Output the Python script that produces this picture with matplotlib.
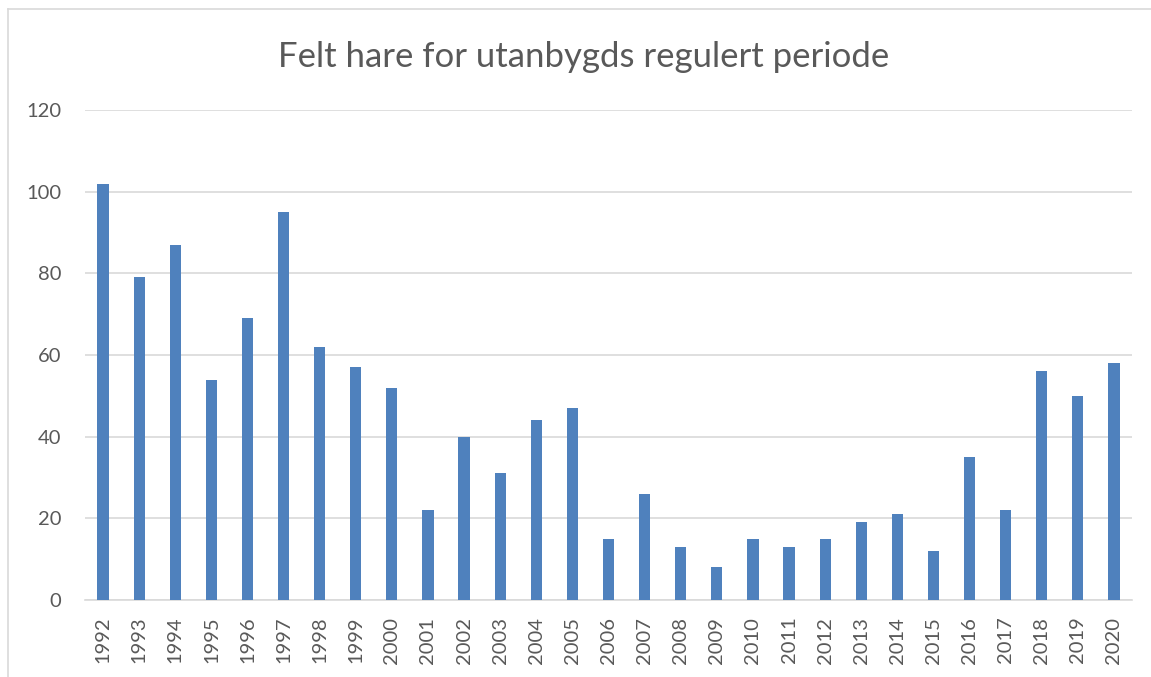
import matplotlib.pyplot as plt
from matplotlib.lines import Line2D

# data
years = [str(y) for y in range(1992, 2021)]
felt_hare = [102, 79, 87, 54, 69, 95, 62, 57, 52, 22, 40, 31, 44, 47, 15,
             26, 13, 8, 15, 13, 15, 19, 21, 12, 35, 22, 56, 50, 58]
y_ticks = [0, 20, 40, 60, 80, 100, 120]

plt.rcParams['font.family'] = ['Lato', 'DejaVu Sans']

W, H = 1151, 677
fig = plt.figure(figsize=(W / 100, H / 100), dpi=100)
ax = fig.add_axes([85 / W, 1 - 600 / H, (1132 - 85) / W, (600 - 110) / H])

x = list(range(len(years)))
ax.bar(x, felt_hare, width=0.31, color='#4F81BD', zorder=3)

ax.set_xlim(-0.5, len(years) - 0.5)
ax.set_ylim(0, 120)
ax.set_yticks(y_ticks)
ax.set_xticks(x)
ax.set_xticklabels(years, rotation=90)
ax.tick_params(axis='both', length=0, labelsize=14.5, colors='#595959')
ax.tick_params(axis='y', pad=17)
ax.tick_params(axis='x', pad=12)
ax.grid(axis='y', color='#D9D9D9', linewidth=1.2, zorder=0)
for side in ['top', 'right', 'left']:
    ax.spines[side].set_visible(False)
ax.spines['bottom'].set_color('#D9D9D9')
ax.spines['bottom'].set_linewidth(1.2)

fig.text(584 / W, 1 - 67 / H, 'Felt hare for utanbygds regulert periode',
         ha='center', va='baseline', fontsize=25, color='#595959')

# outer chart frame
fig.add_artist(Line2D([8 / W, 1], [1 - 9 / H, 1 - 9 / H], color='#D9D9D9', lw=1.2))
fig.add_artist(Line2D([8 / W, 8 / W], [0, 1 - 9 / H], color='#D9D9D9', lw=1.2))

fig.savefig('out.png', dpi=100)
